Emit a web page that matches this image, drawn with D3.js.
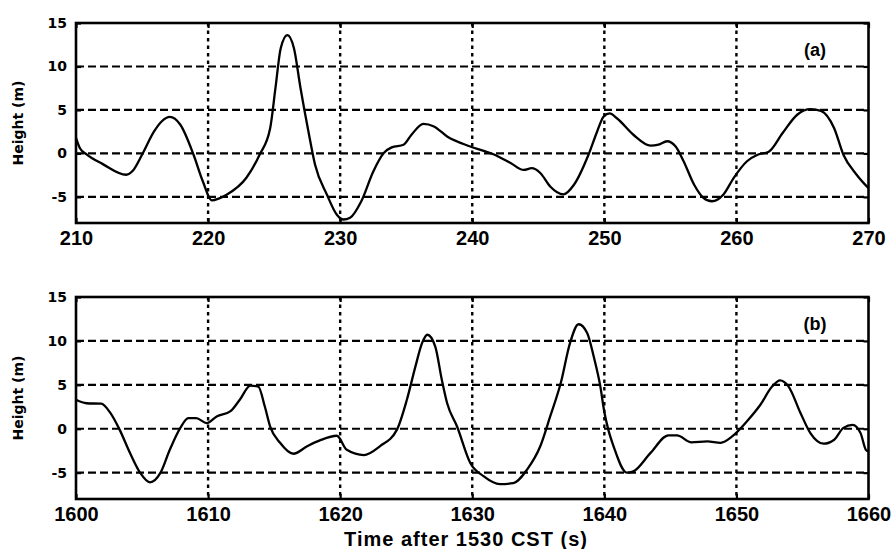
<!DOCTYPE html>
<html><head><meta charset="utf-8">
<script src="https://cdn.jsdelivr.net/npm/d3@7"></script>
<style>body{margin:0;background:#fff} svg{display:block}</style>
</head><body><svg id="c" width="893" height="549"></svg>
<script>
const timeA=[210.0,210.3,210.8,212.0,213.8,214.3,215.0,215.9,216.5,217.1,217.9,218.9,219.6,220.3,220.8,221.4,222.9,223.9,224.7,225.1,225.5,226.0,226.5,227.0,227.6,228.1,229.0,229.75,230.25,230.75,231.6,232.5,233.3,233.9,234.8,235.4,236.3,237.1,238.1,239.85,241.6,242.9,243.9,244.5,245.15,245.9,246.9,247.7,248.8,249.45,249.95,250.4,250.95,252.2,253.5,254.1,254.75,255.4,256.0,256.8,257.5,258.15,259.0,259.8,260.8,261.6,262.45,263.5,264.6,265.6,266.4,267.4,268.1,269.1,270.0];
const heightA=[1.8,0.6,-0.1,-1.2,-2.45,-2.0,-0.15,2.5,3.7,4.2,3.3,-0.15,-3.2,-5.4,-5.2,-4.75,-2.8,-0.15,2.9,7.5,12.1,13.6,12.1,7.5,2.5,-1.3,-4.75,-7.05,-7.6,-7.4,-5.5,-2.1,0.05,0.7,1.0,2.15,3.4,3.1,1.95,0.8,-0.1,-1.1,-1.9,-1.7,-2.25,-3.8,-4.7,-3.6,-0.15,2.5,4.25,4.6,4.05,2.15,0.9,1.0,1.4,0.8,-0.9,-3.6,-5.1,-5.5,-4.75,-2.8,-0.9,-0.15,0.2,2.35,4.45,5.1,4.9,2.9,-0.15,-2.45,-4.0];
const timeB=[1600.0,1600.8,1601.9,1602.6,1603.3,1604.1,1604.85,1605.6,1606.4,1607.1,1607.9,1608.5,1609.1,1609.9,1610.65,1611.7,1612.4,1613.2,1613.8,1614.3,1614.7,1615.45,1616.45,1617.5,1618.5,1619.75,1620.5,1621.8,1623.0,1624.3,1625.05,1625.7,1626.2,1626.6,1627.2,1627.7,1628.1,1628.85,1629.85,1630.85,1632.1,1633.1,1634.15,1635.15,1635.9,1636.7,1637.4,1638.05,1638.7,1639.2,1639.7,1640.0,1640.3,1640.7,1641.7,1642.2,1643.5,1644.85,1645.5,1646.6,1647.8,1648.8,1649.7,1650.8,1651.8,1652.7,1653.3,1653.95,1654.85,1655.6,1656.6,1657.4,1658.1,1658.8,1659.4,1659.8,1660.0];
const heightB=[3.3,2.9,2.85,1.8,-0.1,-2.8,-5.0,-6.1,-5.0,-2.4,0.1,1.2,1.2,0.65,1.4,2.0,3.3,4.9,4.8,2.5,0.25,-1.6,-2.85,-2.0,-1.3,-0.8,-2.4,-3.0,-2.0,-0.1,3.3,7.1,9.75,10.7,9.35,5.55,2.9,0.25,-3.9,-5.4,-6.3,-6.2,-4.65,-2.0,1.4,5.2,9.75,11.9,10.9,8.2,4.8,1.9,-0.1,-2.0,-5.0,-4.85,-2.75,-0.75,-0.75,-1.55,-1.45,-1.6,-0.85,0.85,2.7,4.8,5.5,4.8,1.8,-0.5,-1.7,-1.25,0.1,0.45,-0.5,-2.4,-2.6];
const xTicksA=[210,220,230,240,250,260,270];
const xTicksB=[1600,1610,1620,1630,1640,1650,1660];
const yTicks=[-5,0,5,10,15];
const yDomain=[-8,15];
const panelLabels=["(a)","(b)"];
const xTitle="Time after 1530 CST (s)";
const yTitle="Height (m)";

const svg=d3.select("#c");
const left=76,right=868.5;
const fmt=d=>String(d);
const panels=[
 {t:timeA,h:heightA,xt:xTicksA,top:23,bottom:223,label:panelLabels[0]},
 {t:timeB,h:heightB,xt:xTicksB,top:297,bottom:499,label:panelLabels[1]}
];
panels.forEach(p=>{
  const x=d3.scaleLinear().domain(d3.extent(p.xt)).range([left,right]);
  const y=d3.scaleLinear().domain(yDomain).range([p.bottom,p.top]);
  const g=svg.append("g");
  g.selectAll("line.hg").data(yTicks.filter(v=>v<yDomain[1])).join("line").attr("class","hg")
    .attr("x1",left).attr("x2",right).attr("y1",d=>y(d)).attr("y2",d=>y(d))
    .attr("stroke","#000").attr("stroke-width",2.2).attr("stroke-dasharray","8,4");
  g.selectAll("line.vg").data(p.xt.slice(1,-1)).join("line").attr("class","vg")
    .attr("x1",d=>x(d)).attr("x2",d=>x(d)).attr("y1",p.top).attr("y2",p.bottom)
    .attr("stroke","#000").attr("stroke-width",2.4).attr("stroke-dasharray","3.5,4");
  const line=d3.line().x(d=>x(d[0])).y(d=>y(d[1])).curve(d3.curveMonotoneX);
  g.append("path").datum(d3.zip(p.t,p.h)).attr("d",line)
    .attr("fill","none").attr("stroke","#000").attr("stroke-width",2.3).attr("stroke-linejoin","round");
  const ax=g.append("g").attr("transform",`translate(0,${p.bottom})`)
    .call(d3.axisBottom(x).tickValues(p.xt).tickSize(-5).tickPadding(8).tickFormat(fmt));
  ax.selectAll("text").style("font-family","'Liberation Sans',Arial,sans-serif").style("font-weight","bold").style("font-size","20px").attr("fill","#000");
  g.append("g").attr("transform",`translate(0,${p.top})`)
    .call(d3.axisTop(x).tickValues(p.xt).tickSize(-5).tickFormat(""));
  const ay=g.append("g").attr("transform",`translate(${left},0)`)
    .call(d3.axisLeft(y).tickValues(yTicks).tickSize(-5).tickPadding(9).tickFormat(fmt));
  ay.selectAll("text").style("font-family","'DejaVu Sans',sans-serif").style("font-weight","bold").style("font-size","14px").attr("fill","#000");
  g.append("g").attr("transform",`translate(${right},0)`)
    .call(d3.axisRight(y).tickValues(yTicks).tickSize(-5).tickFormat(""));
  g.selectAll(".domain").remove();
  g.selectAll(".tick line").attr("stroke","#000").attr("stroke-width",2.2);
  g.append("rect").attr("x",left).attr("y",p.top).attr("width",right-left).attr("height",p.bottom-p.top)
    .attr("fill","none").attr("stroke","#000").attr("stroke-width",2.6);
  g.append("text").attr("x",815).attr("y",p.top+33).attr("text-anchor","middle")
    .style("font-family","'Liberation Sans',Arial,sans-serif").style("font-weight","bold").style("font-size","18px").text(p.label);
  g.append("text").attr("transform",`translate(23,${(p.top+p.bottom)/2}) rotate(-90)`).attr("text-anchor","middle")
    .style("font-family","'DejaVu Sans',sans-serif").style("font-weight","bold").style("font-size","14px").text(yTitle);
});
svg.append("text").attr("x",466).attr("y",546).attr("text-anchor","middle")
  .style("font-family","'Liberation Sans',Arial,sans-serif").style("font-weight","bold").style("font-size","20px").style("letter-spacing","1px")
  .text(xTitle);
</script></body></html>
